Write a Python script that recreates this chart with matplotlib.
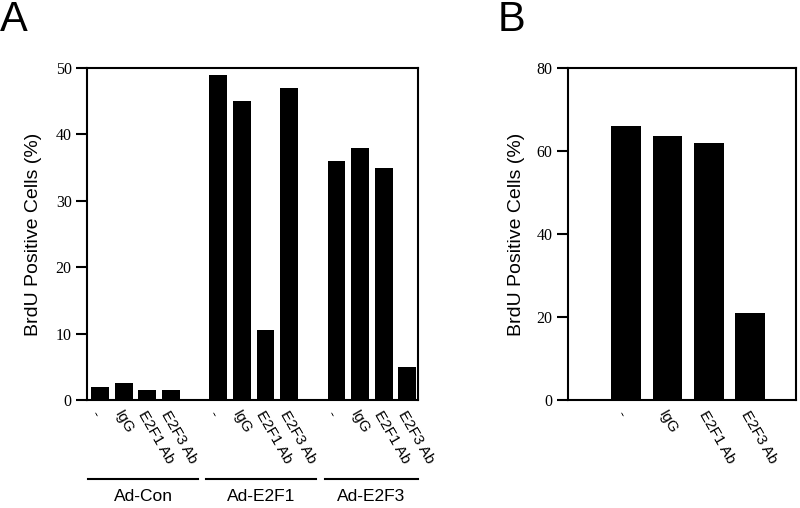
import numpy as np
import matplotlib
matplotlib.use("Agg")
import matplotlib.pyplot as plt

# panel A data
treatments = ["-", "IgG", "E2F1 Ab", "E2F3 Ab"]
groups = ["Ad-Con", "Ad-E2F1", "Ad-E2F3"]
ad_con = [2.0, 2.5, 1.5, 1.5]
ad_e2f1 = [49.0, 45.0, 10.5, 47.0]
ad_e2f3 = [36.0, 38.0, 35.0, 5.0]
a_ticks = [0, 10, 20, 30, 40, 50]

# panel B data
b_values = [66.0, 63.5, 62.0, 21.0]
b_ticks = [0, 20, 40, 60, 80]

serif = "Liberation Serif"
sans = "Liberation Sans"

fig = plt.figure(figsize=(8, 5.08), dpi=100)
axA = fig.add_axes([0.10875, 0.2126, 0.41375, 0.6535])
axB = fig.add_axes([0.71, 0.2126, 0.285, 0.6535])


def style_axis(ax, ticks):
    for s in ax.spines.values():
        s.set_linewidth(1.5)
    ax.set_yticks(ticks, labels=[str(t) for t in ticks],
                  fontfamily=serif, fontsize=11.5)
    ax.tick_params(axis="y", direction="out", length=8, width=1.5, pad=3)
    ax.tick_params(axis="x", length=0, pad=6)
    ax.set_ylabel("BrdU Positive Cells (%)", fontfamily=sans, fontsize=14)


# ---- Panel A ----
series = [ad_con, ad_e2f1, ad_e2f3]
positions = []
heights = []
labels = []
for gi, vals in enumerate(series):
    for ti, v in enumerate(vals):
        positions.append(gi * 5 + ti)
        heights.append(v)
        labels.append(treatments[ti])

axA.bar(positions, heights, width=0.75, color="black")
axA.set_xlim(-0.55, 13.45)
axA.set_ylim(0, 50)
axA.set_xticks(positions)
axA.set_xticklabels(labels, rotation=-60, ha="left", rotation_mode="anchor",
                    fontfamily=sans, fontsize=11)
style_axis(axA, a_ticks)
axA.yaxis.set_label_coords(-0.135, 0.5)

trans = axA.get_xaxis_transform()
for gi, name in enumerate(groups):
    x0 = gi * 5 - 0.5
    x1 = min(gi * 5 + 3 + 1.15, 13.45)
    axA.plot([x0, x1], [-0.238, -0.238], color="black", lw=1.5,
             transform=trans, clip_on=False)
    axA.text((x0 + x1) / 2, -0.29, name, transform=trans, ha="center",
             va="center", fontfamily=sans, fontsize=12.5)

# ---- Panel B ----
xb = np.arange(len(b_values))
axB.bar(xb, b_values, width=0.72, color="black")
axB.set_xlim(-1.4, 4.1)
axB.set_ylim(0, 80)
axB.set_xticks(xb)
axB.set_xticklabels(treatments, rotation=-60, ha="left", rotation_mode="anchor",
                    fontfamily=sans, fontsize=11)
style_axis(axB, b_ticks)
axB.yaxis.set_label_coords(-0.19, 0.5)

fig.text(0.0, 1.0, "A", fontfamily=sans, fontsize=30, va="top", ha="left")
fig.text(0.622, 1.0, "B", fontfamily=sans, fontsize=30, va="top", ha="left")

fig.savefig("out.png", dpi=100)
